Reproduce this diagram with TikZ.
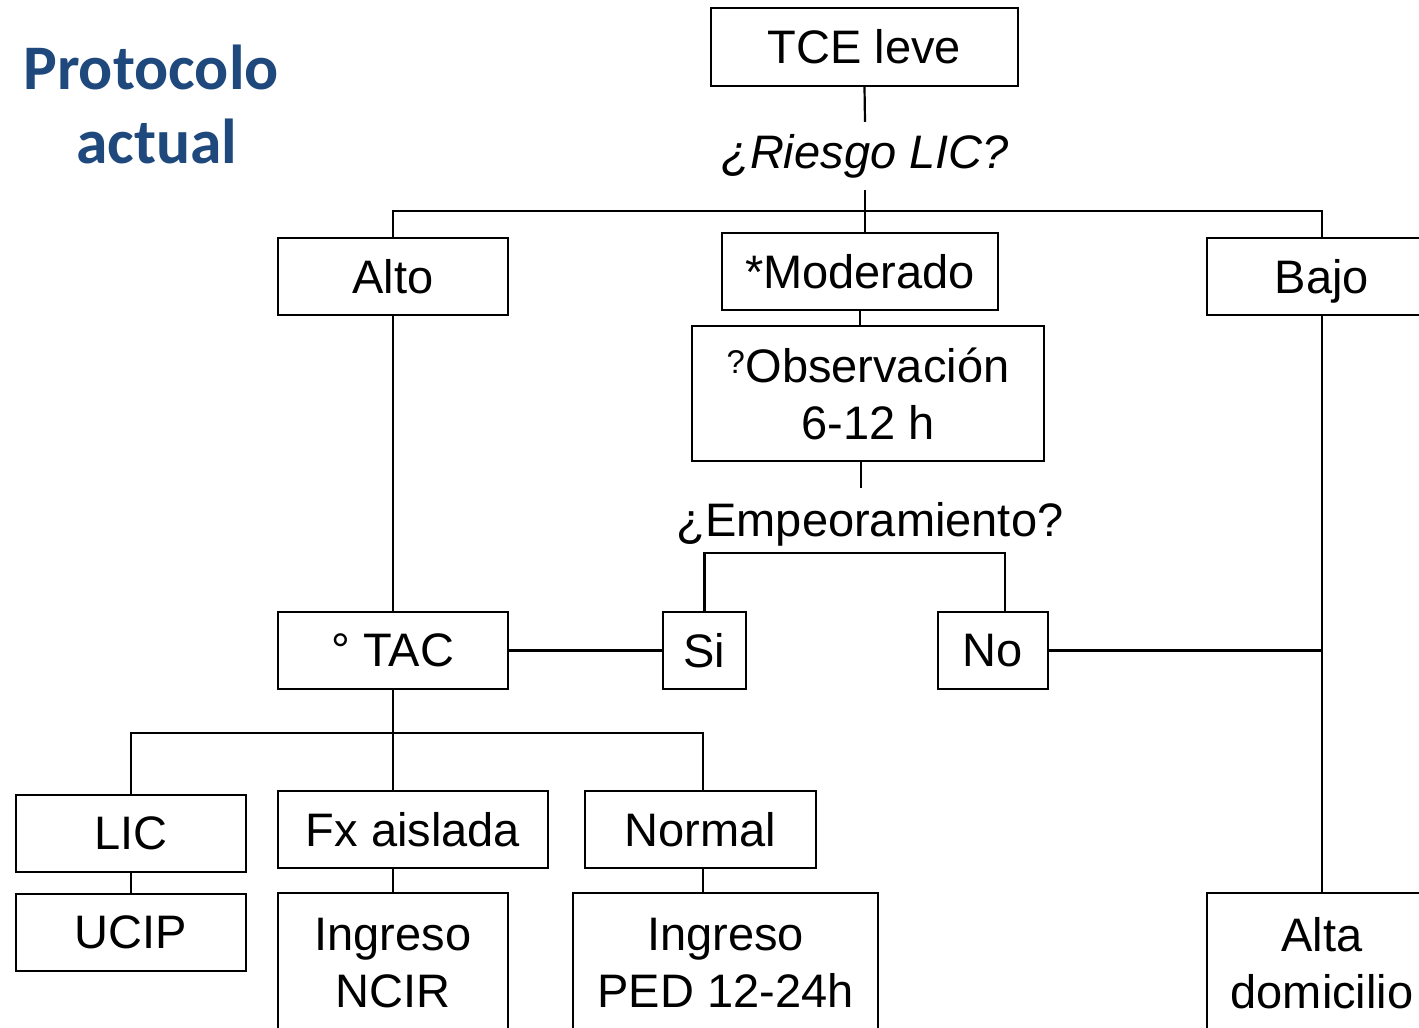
\documentclass[tikz,border=0pt]{standalone}
\usepackage{fontspec}
\setmainfont{Liberation Sans}
\newfontfamily\titlefont{Carlito}
\definecolor{titleblue}{HTML}{1F497D}
\begin{document}
\begin{tikzpicture}[x=1pt,y=-1pt,
  box/.style={draw, line width=1.5pt, inner sep=0pt, align=center,
    font=\fontsize{47}{57}\selectfont},
  lbl/.style={inner sep=0pt, align=center, font=\fontsize{47}{57}\selectfont},
  conn/.style={line width=2.2pt}]
\clip (0,0) rectangle (1419,1028);
\fill[white] (0,0) rectangle (1419,1028);
% title
\node[font=\titlefont\bfseries\fontsize{63.5}{76}\selectfont, text=titleblue, align=center] (title) at (151,104) {Protocolo\\[-2pt]\hspace*{12pt}actual};
% nodes
\node[box, minimum width=307pt, minimum height=78pt] (tce) at (864.5,47) {TCE leve};
\node[lbl, font=\itshape\fontsize{47}{57}\selectfont, inner ysep=12pt] (riesgo) at (865,156) {¿Riesgo LIC?};
\node[box, minimum width=230pt, minimum height=77pt] (alto) at (393,276.5) {Alto};
\node[box, minimum width=276pt, minimum height=77pt] (mod) at (860,271.5) {*Moderado};
\node[box, minimum width=230pt, minimum height=77pt, text depth=0pt] (bajo) at (1322,276.5) {Bajo};
\node[box, minimum width=352pt, minimum height=135pt] (obs) at (868,393.5) {\textsuperscript{?}Observación\\6-12 h};
\node[lbl, inner ysep=14pt] (emp) at (870,524) {¿Empeoramiento?};
\node[box, minimum width=83pt, minimum height=77pt] (si) at (704.5,650.5) {Si};
\node[box, minimum width=110pt, minimum height=77pt] (no) at (993,650.5) {No};
\node[box, minimum width=230pt, minimum height=77pt] (tac) at (393,650.5) {° TAC};
\node[box, minimum width=230pt, minimum height=77pt] (lic) at (131,833.5) {LIC};
\node[box, minimum width=230pt, minimum height=77pt] (ucip) at (131,932.5) {UCIP};
\node[box, minimum width=270pt, minimum height=77pt] (fx) at (413,829.5) {Fx aislada};
\node[box, minimum width=231pt, minimum height=77pt] (normal) at (700.5,829.5) {Normal};
\node[box, minimum width=230pt, minimum height=140pt] (ncir) at (393,963) {Ingreso\\NCIR};
\node[box, minimum width=305pt, minimum height=140pt] (ped) at (725.5,963) {Ingreso\\PED 12-24h};
\node[box, minimum width=230pt, minimum height=140pt] (alta) at (1322,963) {Alta\\domicilio};
% coordinates
\coordinate (h1) at (864,211);
\coordinate (h2) at (855,553);
\coordinate (h2r) at (1005,553);
\coordinate (h3) at (393,733);
\coordinate (h3r) at (703,733);
% connectors
\draw[conn] (tce.south) -- (riesgo.north);
\draw[conn] (riesgo.south) -- (mod.north -| riesgo.south);
\draw[conn] (alto.north) |- (h1) -| (bajo.north);
\draw[conn] (mod.south) -- (obs.north -| mod.south);
\draw[conn] ([xshift=-7pt]obs.south) -- ([xshift=-9pt]emp.north);
\draw[conn] (si.north) |- (h2r) -- (h2r |- no.north);
\draw[conn] (alto.south) -- (tac.north);
\draw[conn] (tac.east) -- (si.west);
\draw[conn] (no.east) -- (no.east -| bajo.south);
\draw[conn] (bajo.south) -- (alta.north);
\draw[conn] (tac.south) -- (h3);
\draw[conn] (lic.north) |- (h3r) -- (h3r |- normal.north);
\draw[conn] (h3) -- (h3 |- fx.north);
\draw[conn] (lic.south) -- (ucip.north);
\draw[conn] (fx.south -| ncir.north) -- (ncir.north);
\draw[conn] (h3r |- normal.south) -- (h3r |- ped.north);
\end{tikzpicture}
\end{document}
